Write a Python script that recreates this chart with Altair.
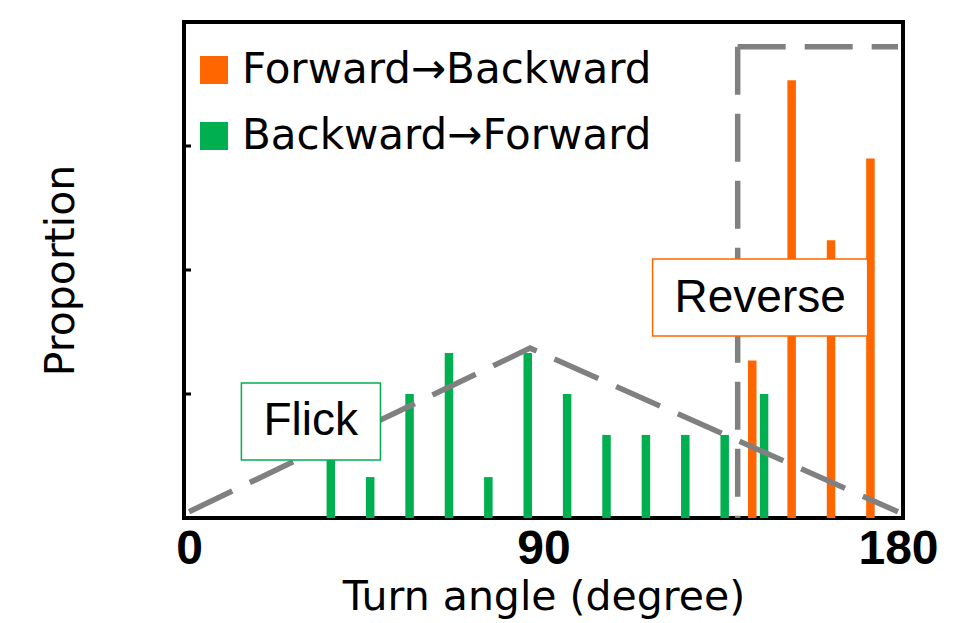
import altair as alt
import pandas as pd

# ---- data ----
bf_angles = [36, 46, 56, 66, 76, 86, 96, 106, 116, 126, 136, 146]
bf_values = [0.067, 0.033, 0.100, 0.133, 0.033, 0.133, 0.100, 0.067, 0.067, 0.067, 0.067, 0.100]
fb_angles = [143, 153, 163, 173]
fb_values = [0.127, 0.353, 0.224, 0.290]
series_names = ["Forward\u2192Backward", "Backward\u2192Forward"]
series_colors = ["#FF6600", "#00B050"]

x_ticks = [0, 90, 180]
y_ticks = [0.1, 0.2, 0.3]

# flick triangle (dashed guide)
tri_x = [0, 86.6, 180]
tri_y = [0.005, 0.137, 0.005]
# reverse region (dashed guide) corner at (139.3, 0.38)
rev_x0 = 139.3
rev_ytop = 0.38

# annotation boxes
flick_box = dict(x=13.3, x2=48.6, y=0.0468, y2=0.1089, tx=30.9, ty=0.078, label="Flick")
rev_box = dict(x=117.7, x2=172.3, y=0.1468, y2=0.2089, tx=145.0, ty=0.1778, label="Reverse")

# ---- tables ----
bars = pd.DataFrame(
    [{"angle": a, "value": v, "series": series_names[1]} for a, v in zip(bf_angles, bf_values)]
    + [{"angle": a, "value": v, "series": series_names[0]} for a, v in zip(fb_angles, fb_values)]
)
tri = pd.DataFrame({"angle": tri_x, "value": tri_y, "o": [0, 1, 2]})
rev = pd.DataFrame({
    "angle": [rev_x0, rev_x0, rev_x0, 180],
    "value": [rev_ytop, 0, rev_ytop, rev_ytop],
    "seg": ["v", "v", "h", "h"],
    "o": [0, 1, 0, 1],
})
ticks = pd.DataFrame({"value": y_ticks})
boxes = pd.DataFrame([flick_box, rev_box])
boxes["col"] = [series_colors[1], series_colors[0]]

xscale = alt.Scale(domain=[0, 180], nice=False, zero=False)
yscale = alt.Scale(domain=[0, 0.4], nice=False)

FONT = "DejaVu Sans"

bar_layer = alt.Chart(bars).mark_bar(size=8.5).encode(
    x=alt.X("angle:Q", scale=xscale,
            axis=alt.Axis(values=x_ticks, title="Turn angle (degree)", ticks=False, domain=False,
                          grid=False, labelFont="Liberation Sans", labelFontWeight="bold",
                          labelFontSize=48, labelColor="black", labelPadding=7,
                          labelFlush=False, labelOverlap=False,
                          titleFont=FONT, titleFontSize=41, titleFontWeight="normal",
                          titleColor="black", titlePadding=4)),
    y=alt.Y("value:Q", scale=yscale,
            axis=alt.Axis(values=y_ticks, labels=False, ticks=False, domain=False, grid=False,
                          title="Proportion", titleFont=FONT, titleFontSize=41,
                          titleFontWeight="normal", titleColor="black", titlePadding=102)),
    color=alt.Color("series:N",
                    scale=alt.Scale(domain=series_names, range=series_colors),
                    legend=alt.Legend(title=None, orient="none", legendX=9, legendY=27,
                                      symbolType="square", symbolSize=784, symbolStrokeWidth=0,
                                      labelFont=FONT, labelFontSize=42, labelColor="black",
                                      labelOffset=7, rowPadding=24, padding=0, labelLimit=0,
                                      symbolOpacity=1)),
)

tick_layer = alt.Chart(ticks).mark_rule(color="black", strokeWidth=3).encode(
    x=alt.value(0), x2=alt.value(7), y=alt.Y("value:Q", scale=yscale)
)

tri_layer = alt.Chart(tri).mark_line(color="#808080", strokeWidth=5.5, strokeDash=[48, 19.5],
                                     strokeCap="butt").encode(
    x=alt.X("angle:Q", scale=xscale), y=alt.Y("value:Q", scale=yscale), order="o:O"
)

rev_layer = alt.Chart(rev).mark_line(color="#808080", strokeWidth=5.5, strokeDash=[48, 19],
                                     strokeCap="butt").encode(
    x=alt.X("angle:Q", scale=xscale), y=alt.Y("value:Q", scale=yscale),
    detail="seg:N", order="o:O"
)

box_layer = alt.Chart(boxes).mark_rect(fill="white", strokeWidth=1.5).encode(
    x=alt.X("x:Q", scale=xscale), x2="x2:Q",
    y=alt.Y("y:Q", scale=yscale), y2="y2:Q",
    stroke=alt.Stroke("col:N", scale=None),
)

text_layer = alt.Chart(boxes).mark_text(font="Liberation Sans", fontSize=46, color="black",
                                        align="center", baseline="middle").encode(
    x=alt.X("tx:Q", scale=xscale), y=alt.Y("ty:Q", scale=yscale), text="label:N"
)

chart = alt.layer(bar_layer, tick_layer, tri_layer, rev_layer, box_layer, text_layer).properties(
    width=719, height=496,
    autosize=alt.AutoSizeParams(type="none"),
    padding={"left": 176, "top": 14, "right": 42, "bottom": 105},
).configure(background="white", view=alt.ViewConfig(stroke="black", strokeWidth=4))

chart.save("out.html", embed_options={"renderer": "svg", "actions": False})
